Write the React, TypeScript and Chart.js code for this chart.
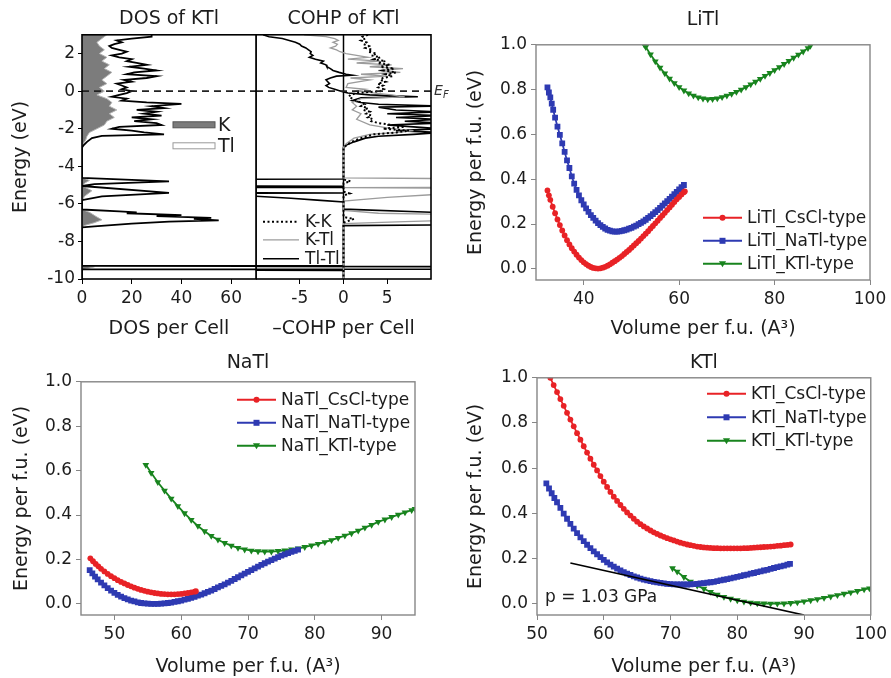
import React, { useEffect, useRef } from 'react';
import { Chart, registerables } from 'chart.js';

Chart.register(...registerables);

type Pair = [number, number];

// ---------------- Energy–volume panels ----------------
const energyTicks = [0, 0.2, 0.4, 0.6, 0.8, 1.0];

// LiTl: [volume, energy]
const litlVolumeTicks = [40, 60, 80, 100];
const litlCsCl: Pair[] = [
  [32.4, 0.35], [32.7, 0.328], [33, 0.308], [33.5, 0.277], [34, 0.248], [34.5, 0.22], [35, 0.195], [35.5, 0.171],
  [36, 0.149], [36.5, 0.128], [37, 0.109], [37.5, 0.092], [38, 0.077], [38.5, 0.063], [39, 0.05], [39.5, 0.039],
  [40, 0.029], [40.5, 0.021], [41, 0.014], [41.5, 0.008], [42, 0.004], [42.5, 0.002], [43, 0.001], [43.5, 0.002],
  [44, 0.005], [44.5, 0.009], [45, 0.014], [45.5, 0.02], [46, 0.027], [46.5, 0.034], [47, 0.041], [47.5, 0.049],
  [48, 0.057], [48.5, 0.066], [49, 0.075], [49.5, 0.084], [50, 0.094], [50.5, 0.104], [51, 0.114], [51.5, 0.124],
  [52, 0.135], [52.5, 0.146], [53, 0.157], [53.5, 0.168], [54, 0.18], [54.5, 0.191], [55, 0.203], [55.5, 0.215],
  [56, 0.227], [56.5, 0.238], [57, 0.25], [57.5, 0.262], [58, 0.274], [58.5, 0.286], [59, 0.298], [59.5, 0.31],
  [60, 0.321], [60.5, 0.332], [61, 0.342], [61.2, 0.346],
];
const litlNaTl: Pair[] = [
  [32.4, 0.81], [32.7, 0.787], [33, 0.765], [33.3, 0.737], [33.6, 0.71], [34, 0.675], [34.5, 0.635], [35, 0.598],
  [35.5, 0.56], [36, 0.522], [36.5, 0.484], [37, 0.45], [37.5, 0.413], [38, 0.38], [38.5, 0.352], [39, 0.328],
  [39.5, 0.306], [40, 0.287], [40.5, 0.27], [41, 0.254], [41.5, 0.24], [42, 0.227], [42.5, 0.215], [43, 0.204],
  [43.5, 0.195], [44, 0.187], [44.5, 0.18], [45, 0.174], [45.5, 0.17], [46, 0.167], [46.5, 0.166], [47, 0.166],
  [47.5, 0.167], [48, 0.169], [48.5, 0.172], [49, 0.175], [49.5, 0.179], [50, 0.183], [50.5, 0.188], [51, 0.193],
  [51.5, 0.199], [52, 0.205], [52.5, 0.212], [53, 0.219], [53.5, 0.227], [54, 0.235], [54.5, 0.244], [55, 0.253],
  [55.5, 0.262], [56, 0.272], [56.5, 0.282], [57, 0.292], [57.5, 0.302], [58, 0.312], [58.5, 0.322], [59, 0.333],
  [59.5, 0.343], [60, 0.354], [60.5, 0.364], [61, 0.374],
];
const litlKTl: Pair[] = [
  [52.7, 1.0], [53, 0.99], [54, 0.957], [55, 0.926], [56, 0.898], [57, 0.872], [58, 0.849], [59, 0.829],
  [60, 0.811], [61, 0.796], [62, 0.783], [63, 0.773], [64, 0.765], [65, 0.76], [66, 0.757], [67, 0.758],
  [68, 0.761], [69, 0.766], [70, 0.773], [71, 0.781], [72, 0.79], [73, 0.8], [74, 0.811], [75, 0.823],
  [76, 0.835], [77, 0.848], [78, 0.861], [79, 0.874], [80, 0.887], [81, 0.9], [82, 0.914], [83, 0.928],
  [84, 0.942], [85, 0.956], [86, 0.97], [87, 0.985], [87.5, 0.995],
];

// NaTl
const natlVolumeTicks = [50, 60, 70, 80, 90];
const natlCsCl: Pair[] = [
  [46.4, 0.205], [46.8, 0.192], [47.2, 0.18], [47.6, 0.169], [48, 0.158], [48.5, 0.146], [49, 0.135], [49.5, 0.125],
  [50, 0.116], [50.5, 0.107], [51, 0.099], [51.5, 0.092], [52, 0.085], [52.5, 0.079], [53, 0.073], [53.5, 0.068],
  [54, 0.063], [54.5, 0.059], [55, 0.055], [55.5, 0.052], [56, 0.049], [56.5, 0.047], [57, 0.045], [57.5, 0.044],
  [58, 0.043], [58.5, 0.043], [59, 0.043], [59.5, 0.044], [60, 0.045], [60.5, 0.047], [61, 0.049], [61.5, 0.052],
  [62, 0.055], [62.2, 0.057],
];
const natlNaTl: Pair[] = [
  [46.3, 0.152], [46.7, 0.137], [47.1, 0.123], [47.5, 0.11], [48, 0.096], [48.5, 0.083], [49, 0.071], [49.5, 0.06],
  [50, 0.05], [50.5, 0.041], [51, 0.033], [51.5, 0.026], [52, 0.02], [52.5, 0.015], [53, 0.011], [53.5, 0.007],
  [54, 0.004], [54.5, 0.002], [55, 0.001], [55.5, 0.0], [56, 0.0], [56.5, 0.0], [57, 0.001], [57.5, 0.002],
  [58, 0.004], [58.5, 0.006], [59, 0.009], [59.5, 0.012], [60, 0.015], [60.5, 0.019], [61, 0.023], [61.5, 0.027],
  [62, 0.032], [62.5, 0.037], [63, 0.042], [63.5, 0.048], [64, 0.054], [64.5, 0.06], [65, 0.067], [65.5, 0.074],
  [66, 0.081], [66.5, 0.088], [67, 0.096], [67.5, 0.104], [68, 0.112], [68.5, 0.12], [69, 0.128], [69.5, 0.136],
  [70, 0.144], [70.5, 0.152], [71, 0.16], [71.5, 0.168], [72, 0.176], [72.5, 0.183], [73, 0.19], [73.5, 0.197],
  [74, 0.204], [74.5, 0.211], [75, 0.217], [75.5, 0.223], [76, 0.229], [76.5, 0.234], [77, 0.239], [77.5, 0.244],
];
const natlKTl: Pair[] = [
  [54.7, 0.626], [55.5, 0.59], [56.5, 0.548], [57.5, 0.51], [58.5, 0.474], [59.5, 0.44], [60.5, 0.408], [61.5, 0.378],
  [62.5, 0.351], [63.5, 0.327], [64.5, 0.306], [65.5, 0.289], [66.5, 0.274], [67.5, 0.262], [68.5, 0.252], [69.5, 0.245],
  [70.5, 0.24], [71.5, 0.237], [72.5, 0.236], [73.5, 0.236], [74.5, 0.238], [75.5, 0.241], [76.5, 0.245], [77.5, 0.25],
  [78.5, 0.256], [79.5, 0.263], [80.5, 0.27], [81.5, 0.278], [82.5, 0.287], [83.5, 0.297], [84.5, 0.307], [85.5, 0.318],
  [86.5, 0.33], [87.5, 0.343], [88.5, 0.356], [89.5, 0.369], [90.5, 0.38], [91.5, 0.391], [92.5, 0.402], [93.5, 0.412],
  [94.5, 0.422], [95, 0.427],
];

// KTl
const ktlVolumeTicks = [50, 60, 70, 80, 90, 100];
const ktlCsCl: Pair[] = [
  [52, 1.0], [52.5, 0.968], [53, 0.937], [53.5, 0.906], [54, 0.876], [54.5, 0.845], [55, 0.815], [55.5, 0.785],
  [56, 0.755], [56.5, 0.726], [57, 0.697], [57.5, 0.669], [58, 0.642], [58.5, 0.615], [59, 0.59], [59.5, 0.565],
  [60, 0.54], [60.5, 0.517], [61, 0.495], [61.5, 0.474], [62, 0.455], [62.5, 0.437], [63, 0.42], [63.5, 0.404],
  [64, 0.39], [64.5, 0.376], [65, 0.363], [65.5, 0.352], [66, 0.342], [66.5, 0.333], [67, 0.324], [67.5, 0.316],
  [68, 0.309], [68.5, 0.302], [69, 0.296], [69.5, 0.29], [70, 0.285], [70.5, 0.28], [71, 0.275], [71.5, 0.27],
  [72, 0.266], [72.5, 0.262], [73, 0.259], [73.5, 0.256], [74, 0.253], [74.5, 0.251], [75, 0.249], [75.5, 0.248],
  [76, 0.247], [76.5, 0.246], [77, 0.246], [77.5, 0.245], [78, 0.245], [78.5, 0.245], [79, 0.245], [79.5, 0.245],
  [80, 0.245], [80.5, 0.245], [81, 0.246], [81.5, 0.246], [82, 0.247], [82.5, 0.248], [83, 0.249], [83.5, 0.25],
  [84, 0.251], [84.5, 0.252], [85, 0.253], [85.5, 0.254], [86, 0.256], [86.5, 0.257], [87, 0.259], [87.5, 0.26],
  [88, 0.262],
];
const ktlNaTl: Pair[] = [
  [51.4, 0.533], [51.8, 0.51], [52.2, 0.489], [52.6, 0.468], [53, 0.449], [53.5, 0.424], [54, 0.399], [54.5, 0.376],
  [55, 0.353], [55.5, 0.332], [56, 0.312], [56.5, 0.294], [57, 0.277], [57.5, 0.261], [58, 0.246], [58.5, 0.232],
  [59, 0.219], [59.5, 0.206], [60, 0.194], [60.5, 0.183], [61, 0.173], [61.5, 0.164], [62, 0.155], [62.5, 0.147],
  [63, 0.14], [63.5, 0.133], [64, 0.127], [64.5, 0.121], [65, 0.116], [65.5, 0.111], [66, 0.107], [66.5, 0.103],
  [67, 0.1], [67.5, 0.097], [68, 0.094], [68.5, 0.092], [69, 0.09], [69.5, 0.088], [70, 0.087], [70.5, 0.086],
  [71, 0.086], [71.5, 0.085], [72, 0.085], [72.5, 0.085], [73, 0.086], [73.5, 0.087], [74, 0.088], [74.5, 0.09],
  [75, 0.091], [75.5, 0.093], [76, 0.095], [76.5, 0.097], [77, 0.1], [77.5, 0.103], [78, 0.106], [78.5, 0.109],
  [79, 0.112], [79.5, 0.115], [80, 0.119], [80.5, 0.122], [81, 0.126], [81.5, 0.129], [82, 0.133], [82.5, 0.136],
  [83, 0.14], [83.5, 0.143], [84, 0.147], [84.5, 0.15], [85, 0.154], [85.5, 0.158], [86, 0.162], [86.5, 0.165],
  [87, 0.169], [87.5, 0.173], [87.9, 0.176],
];
const ktlKTl: Pair[] = [
  [70.3, 0.157], [71, 0.142], [72, 0.118], [73, 0.097], [74, 0.08], [75, 0.066], [76, 0.052], [77, 0.04],
  [78, 0.03], [79, 0.022], [80, 0.015], [81, 0.009], [82, 0.005], [83, 0.002], [84, 0.001], [85, 0.0],
  [86, 0.0], [87, 0.001], [88, 0.003], [89, 0.006], [90, 0.01], [91, 0.015], [92, 0.02], [93, 0.026],
  [94, 0.032], [95, 0.038], [96, 0.044], [97, 0.05], [98, 0.056], [99, 0.063], [99.8, 0.068],
];
const ktlTangent: Pair[] = [[55, 0.18], [90, -0.05]];
const ktlPressureNote = 'p = 1.03 GPa';

// ---------------- DOS / COHP of KTl: [value, energy] ----------------
const energyAxisTicks = [-10, -8, -6, -4, -2, 0, 2];
const dosTicks = [0, 20, 40, 60];
const cohpTicks = [-5, 0, 5];
const fermiLevel = 0;
const dosLegendLabels = ['K', 'Tl'];

const dosTotal: Pair[] = [
  [28, 3.0], [28, 2.9], [20, 2.8], [14, 2.7], [16, 2.6], [13, 2.5], [11, 2.4], [12, 2.3], [15, 2.2], [18, 2.1],
  [16, 2.0], [12, 1.9], [15, 1.8], [20, 1.7], [18, 1.6], [22, 1.5], [26, 1.4], [19, 1.3], [25, 1.2], [30, 1.1],
  [21, 1.0], [18, 0.9], [30, 0.8], [26, 0.7], [17, 0.6], [20, 0.5], [14, 0.4], [16, 0.3], [18, 0.2], [16, 0.1],
  [20, 0.0], [18, -0.1], [15, -0.2], [12, -0.3], [18, -0.4], [16, -0.5], [26, -0.6], [40, -0.68], [28, -0.8],
  [33, -0.9], [22, -1.0], [30, -1.1], [25, -1.2], [32, -1.3], [20, -1.4], [28, -1.5], [21, -1.6], [30, -1.7],
  [32, -1.8], [15, -1.9], [12, -2.0], [20, -2.1], [25, -2.2], [33, -2.3], [8, -2.38], [4, -2.5], [2, -2.7],
  [0.5, -2.9], [0, -3.0], [0, -4.62], [35, -4.8], [5, -4.95], [0, -5.05], [35, -5.42], [8, -5.6], [0, -5.8],
  [0, -6.3], [15, -6.4], [22, -6.45], [18, -6.5], [40, -6.6], [30, -6.65], [52, -6.75], [45, -6.8], [55, -6.88],
  [35, -6.95], [20, -7.05], [5, -7.2], [0, -7.25], [0, -9.3], [400, -9.34], [400, -9.47], [0, -9.49], [0, -10],
];
const dosK: Pair[] = [
  [10, 3.0], [8, 2.8], [6, 2.6], [7, 2.4], [9, 2.2], [7, 2.0], [10, 1.8], [8, 1.6], [11, 1.4], [9, 1.2],
  [12, 1.0], [10, 0.8], [8, 0.6], [10, 0.4], [7, 0.2], [9, 0.0], [6, -0.2], [10, -0.4], [12, -0.6], [11, -0.8],
  [14, -1.0], [11, -1.2], [13, -1.4], [10, -1.6], [9, -1.8], [6, -2.0], [3, -2.2], [2, -2.4], [1.5, -2.6],
  [0.5, -2.8], [0, -2.9], [0, -4.6], [3, -4.75], [1, -4.9], [0, -5.05], [4, -5.3], [1, -5.6], [0, -5.85],
  [0, -6.3], [3, -6.45], [6, -6.7], [8, -6.85], [5, -7.0], [1, -7.15], [0, -7.25], [0, -9.28], [5, -9.35],
  [2, -9.45], [0, -9.52], [0, -10],
];
const cohpKK: Pair[] = [
  [2.8, 3.0], [2.2, 2.9], [2.5, 2.8], [2.0, 2.7], [2.6, 2.6], [2.3, 2.5], [2.9, 2.4], [2.5, 2.3], [3.3, 2.2],
  [2.8, 2.1], [3.8, 2.0], [3.2, 1.9], [4.2, 1.8], [3.5, 1.7], [4.8, 1.6], [3.9, 1.5], [5.3, 1.4], [4.2, 1.3],
  [5.8, 1.2], [4.6, 1.1], [6.0, 1.0], [4.8, 0.9], [5.6, 0.8], [4.5, 0.7], [4.2, 0.6], [4.8, 0.5], [3.9, 0.4],
  [4.5, 0.3], [4.0, 0.2], [4.6, 0.1], [4.2, 0.0], [1.5, -0.1], [0.8, -0.2], [0.6, -0.3], [1.0, -0.4], [1.4, -0.5],
  [2.0, -0.6], [2.4, -0.7], [2.0, -0.8], [2.8, -0.9], [2.3, -1.0], [3.0, -1.1], [2.6, -1.2], [3.2, -1.3],
  [2.8, -1.4], [3.4, -1.5], [3.2, -1.6], [4.0, -1.7], [5.5, -1.8], [7.0, -1.9], [4.5, -2.0], [7.5, -2.1],
  [6.0, -2.2], [3.5, -2.3], [2.0, -2.5], [0.9, -2.7], [0.3, -2.9], [0, -3.0], [0, -4.7], [0.8, -4.8], [0, -4.9],
  [0, -5.35], [0.7, -5.45], [0, -5.55], [0, -6.7], [1.2, -6.8], [0.6, -6.9], [0, -7.0], [0, -10],
];
const cohpKTl: Pair[] = [
  [-4.5, 3.0], [-2.0, 2.9], [-1.0, 2.8], [-0.6, 2.7], [-1.2, 2.6], [-0.7, 2.5], [-0.9, 2.4], [-1.5, 2.3],
  [-0.8, 2.2], [-0.4, 2.1], [0.3, 2.0], [1.5, 1.9], [2.8, 1.8], [0.5, 1.7], [4.2, 1.6], [1.5, 1.5], [5.5, 1.4],
  [3.0, 1.3], [6.8, 1.2], [4.0, 1.1], [6.5, 1.0], [2.0, 0.9], [5.0, 0.8], [0.8, 0.7], [3.0, 0.6], [0.5, 0.4],
  [0.3, 0.2], [2.5, 0.1], [1.5, 0.0], [5.5, -0.2], [7.0, -0.3], [2.0, -0.4], [1.0, -0.6], [1.5, -0.8],
  [1.0, -1.0], [2.0, -1.2], [1.5, -1.5], [3.0, -1.8], [5.5, -2.0], [8.0, -2.1], [6.0, -2.2], [3.0, -2.3],
  [1.2, -2.5], [0.3, -2.8], [0, -3.0], [0, -4.62], [40, -4.74], [40, -5.1], [0, -5.14], [40, -5.2], [40, -5.42],
  [10.5, -5.5], [5, -5.65], [0, -5.85], [0, -6.35], [4, -6.5], [10.5, -6.55], [10.5, -6.9], [7, -6.95],
  [0, -7.05], [0, -10],
];
const cohpTlTl: Pair[] = [
  [-9.2, 3.0], [-8.5, 2.9], [-7.0, 2.8], [-6.2, 2.7], [-5.5, 2.6], [-5.0, 2.5], [-4.8, 2.4], [-4.3, 2.3],
  [-4.0, 2.2], [-3.7, 2.1], [-3.8, 2.0], [-3.5, 1.9], [-3.9, 1.8], [-3.2, 1.7], [-2.3, 1.6], [-2.6, 1.5],
  [-2.0, 1.4], [-1.9, 1.3], [-1.5, 1.2], [-1.2, 1.1], [-0.5, 1.0], [0.3, 0.9], [1.0, 0.85], [-0.8, 0.8],
  [-1.5, 0.7], [-2.0, 0.6], [-1.8, 0.5], [-1.6, 0.4], [-2.0, 0.3], [-1.7, 0.2], [-1.0, 0.1], [-0.3, 0.0],
  [0.5, -0.1], [3.0, -0.2], [8.5, -0.3], [2.0, -0.35], [1.0, -0.5], [2.0, -0.6], [4.0, -0.7], [11, -0.8],
  [4.0, -0.85], [6.0, -1.0], [11, -1.1], [5.0, -1.2], [11, -1.3], [6.0, -1.4], [11, -1.5], [7.0, -1.6],
  [11, -1.7], [5.0, -1.8], [8.0, -1.9], [11, -2.0], [6.0, -2.1], [11, -2.2], [8.0, -2.3], [4.0, -2.4],
  [2.5, -2.5], [1.2, -2.7], [0.2, -2.9], [0, -3.0], [0, -4.68], [-40, -4.72], [-40, -5.02], [0, -5.06],
  [0, -5.12], [-40, -5.16], [-40, -5.38], [0, -5.42], [-40, -5.48], [-10.5, -5.58], [-6, -5.7], [-3, -5.8],
  [0, -5.9], [0, -6.28], [10, -6.45], [12, -6.5], [10.2, -6.55], [11, -6.6], [30, -6.8], [30, -7.05],
  [10.5, -7.12], [0, -7.16], [0, -9.28], [-40, -9.33], [40, -9.345], [40, -9.475], [-40, -9.485], [0, -9.55],
  [0, -10],
];

// ---------------- styling helpers ----------------
const FONT = "'DejaVu Sans', 'Liberation Sans', sans-serif";
const TXT = '#1c1c1c';
const AXIS_GRAY = '#868686';
const RED = 'rgb(232,34,38)';
const BLUE = 'rgb(46,58,178)';
const GREEN = 'rgb(24,132,30)';

const toXY = (p: Pair[]) => p.map(([x, y]) => ({ x, y }));

function drawMarker(ctx: CanvasRenderingContext2D, style: string, x: number, y: number, color: string) {
  ctx.fillStyle = color;
  ctx.beginPath();
  if (style === 'circle') {
    ctx.arc(x, y, 3, 0, Math.PI * 2);
  } else if (style === 'rect') {
    ctx.rect(x - 3, y - 3, 6, 6);
  } else {
    ctx.moveTo(x - 3.6, y - 2.5);
    ctx.lineTo(x + 3.6, y - 2.5);
    ctx.lineTo(x, y + 3.4);
    ctx.closePath();
  }
  ctx.fill();
}

function framePlugin(color: string, width: number) {
  return {
    id: 'frame',
    afterDraw(chart: any) {
      const { ctx, chartArea: a } = chart;
      ctx.save();
      ctx.strokeStyle = color;
      ctx.lineWidth = width;
      ctx.strokeRect(a.left, a.top, a.right - a.left, a.bottom - a.top);
      ctx.restore();
    },
  };
}

function seriesLegendPlugin(indices: number[], styles: string[], dx: number, dy: number, gap: number) {
  return {
    id: 'seriesLegend',
    afterDraw(chart: any) {
      const { ctx, chartArea: a } = chart;
      ctx.save();
      indices.forEach((di, i) => {
        const ds = chart.data.datasets[di];
        const x0 = a.left + dx;
        const y = a.top + dy + i * gap;
        ctx.strokeStyle = ds.borderColor;
        ctx.lineWidth = 2;
        ctx.beginPath();
        ctx.moveTo(x0, y);
        ctx.lineTo(x0 + 39, y);
        ctx.stroke();
        drawMarker(ctx, styles[i], x0 + 19.5, y, ds.borderColor);
        ctx.fillStyle = TXT;
        ctx.font = `17px ${FONT}`;
        ctx.textAlign = 'left';
        ctx.textBaseline = 'middle';
        ctx.fillText(ds.label, x0 + 44, y + 1);
      });
      ctx.restore();
    },
  };
}

function notePlugin(text: string, dx: number, dy: number) {
  return {
    id: 'note',
    afterDraw(chart: any) {
      const { ctx, chartArea: a } = chart;
      ctx.save();
      ctx.fillStyle = TXT;
      ctx.font = `17px ${FONT}`;
      ctx.textAlign = 'left';
      ctx.textBaseline = 'middle';
      ctx.fillText(text, a.left + dx, a.top + dy);
      ctx.restore();
    },
  };
}

const tickFont = { family: FONT, size: 17 };
const titleFont = { family: FONT, size: 19, weight: 'normal' as const };

interface SeriesDef { label: string; pts: Pair[]; color: string; style: 'circle' | 'rect' | 'triangle' }

interface EnergyPanelDef {
  title: string;
  xMin: number; xMax: number; xTicks: number[];
  series: SeriesDef[];
  tangent?: Pair[];
  yAxisW: number; xAxisH: number; padRight: number;
  titlePad: { top: number; bottom: number };
  yTitlePad: number;
  legend: { dx: number; dy: number; gap: number };
  note?: { text: string; dx: number; dy: number };
}

function energyConfig(p: EnergyPanelDef) {
  const datasets: any[] = [];
  if (p.tangent) {
    datasets.push({
      label: 'tangent', data: toXY(p.tangent), showLine: true, borderColor: '#000', borderWidth: 1.7,
      pointRadius: 0,
    });
  }
  const legendIdx: number[] = [];
  p.series.forEach((s) => {
    legendIdx.push(datasets.length);
    datasets.push({
      label: s.label,
      data: toXY(s.pts),
      showLine: true,
      borderColor: s.color,
      backgroundColor: s.color,
      borderWidth: 1.8,
      pointStyle: s.style,
      pointRotation: s.style === 'triangle' ? 180 : 0,
      pointRadius: s.style === 'circle' ? 2.9 : s.style === 'rect' ? 4.1 : 3.9,
      pointBorderWidth: 0,
      pointBackgroundColor: s.color,
    });
  });
  const plugins: any[] = [
    framePlugin(AXIS_GRAY, 1.4),
    seriesLegendPlugin(legendIdx, p.series.map((s) => s.style), p.legend.dx, p.legend.dy, p.legend.gap),
  ];
  if (p.note) plugins.push(notePlugin(p.note.text, p.note.dx, p.note.dy));
  return {
    type: 'scatter',
    data: { datasets },
    options: {
      responsive: false,
      animation: false,
      devicePixelRatio: 1,
      events: [],
      layout: { padding: { left: 0, right: p.padRight, top: 0, bottom: 0 } },
      scales: {
        x: {
          type: 'linear', min: p.xMin, max: p.xMax,
          afterBuildTicks: (s: any) => { s.ticks = p.xTicks.map((v) => ({ value: v })); },
          afterFit: (s: any) => { s.height = p.xAxisH; },
          grid: { drawOnChartArea: false, drawTicks: true, tickLength: 5, tickColor: AXIS_GRAY, color: AXIS_GRAY },
          border: { display: false },
          ticks: { font: tickFont, color: TXT, padding: 4, maxRotation: 0, autoSkip: false, callback: (v: any) => String(v) },
          title: { display: true, text: 'Volume per f.u. (A³)', font: titleFont, color: TXT, padding: { top: 0, bottom: 0 } },
        },
        y: {
          type: 'linear', min: -0.05, max: 1.0,
          afterBuildTicks: (s: any) => { s.ticks = energyTicks.map((v) => ({ value: v })); },
          afterFit: (s: any) => { s.width = p.yAxisW; },
          grid: { drawOnChartArea: false, drawTicks: true, tickLength: 5, tickColor: AXIS_GRAY, color: AXIS_GRAY },
          border: { display: false },
          ticks: { font: tickFont, color: TXT, padding: 4, autoSkip: false, callback: (v: any) => Number(v).toFixed(1) },
          title: { display: true, text: 'Energy per f.u. (eV)', font: titleFont, color: TXT, padding: { top: p.yTitlePad, bottom: 0 } },
        },
      },
      plugins: {
        legend: { display: false },
        tooltip: { enabled: false },
        title: { display: true, text: p.title, font: titleFont, color: TXT, padding: p.titlePad, fullSize: false },
      },
    },
    plugins,
  };
}

const dosLegendPlugin = {
  id: 'dosLegend',
  afterDraw(chart: any) {
    const { ctx, chartArea: a } = chart;
    ctx.save();
    ctx.lineWidth = 1;
    ctx.fillStyle = '#7c7c7c';
    ctx.strokeStyle = '#555';
    ctx.fillRect(a.left + 91, a.top + 87, 42, 6);
    ctx.strokeRect(a.left + 91, a.top + 87, 42, 6);
    ctx.fillStyle = '#fff';
    ctx.strokeStyle = '#9a9a9a';
    ctx.fillRect(a.left + 91, a.top + 108, 42, 6);
    ctx.strokeRect(a.left + 91, a.top + 108, 42, 6);
    ctx.fillStyle = TXT;
    ctx.font = `19px ${FONT}`;
    ctx.textAlign = 'left';
    ctx.textBaseline = 'middle';
    ctx.fillText(dosLegendLabels[0], a.left + 136, a.top + 91);
    ctx.fillText(dosLegendLabels[1], a.left + 136, a.top + 112);
    ctx.restore();
  },
};

const cohpLegendPlugin = {
  id: 'cohpLegend',
  afterDraw(chart: any) {
    const { ctx, chartArea: a } = chart;
    const rows = [1, 2, 3];
    const ys = [187, 205, 224];
    ctx.save();
    rows.forEach((di, i) => {
      const ds = chart.data.datasets[di];
      const y = a.top + ys[i];
      ctx.strokeStyle = ds.borderColor;
      ctx.lineWidth = ds.borderWidth;
      ctx.setLineDash(ds.borderDash || []);
      ctx.beginPath();
      ctx.moveTo(a.left + 7, y);
      ctx.lineTo(a.left + 43, y);
      ctx.stroke();
      ctx.setLineDash([]);
      ctx.fillStyle = TXT;
      ctx.font = `17px ${FONT}`;
      ctx.textAlign = 'left';
      ctx.textBaseline = 'middle';
      ctx.fillText(ds.label, a.left + 49, y + 1);
    });
    // Fermi level label
    const yF = chart.scales.y.getPixelForValue(fermiLevel);
    ctx.font = `italic 14px ${FONT}`;
    ctx.fillStyle = '#333';
    ctx.fillText('E', a.right + 3, yF);
    ctx.font = `italic 10px ${FONT}`;
    ctx.fillText('F', a.right + 12, yF + 4);
    ctx.restore();
  },
};

function bandScales(xMin: number, xMax: number, xTicks: number[], xTitle: string, showY: boolean, yTitlePad: number) {
  return {
    x: {
      type: 'linear', min: xMin, max: xMax,
      afterBuildTicks: (s: any) => { s.ticks = xTicks.map((v) => ({ value: v })); },
      afterFit: (s: any) => { s.height = 61; },
      grid: { drawOnChartArea: false, drawTicks: true, tickLength: 5, tickColor: '#000', color: '#000' },
      border: { display: false },
      ticks: { font: tickFont, color: TXT, padding: 4, maxRotation: 0, autoSkip: false, callback: (v: any) => String(v) },
      title: { display: true, text: xTitle, font: titleFont, color: TXT, padding: { top: 0, bottom: 0 } },
    },
    y: {
      type: 'linear', min: -10, max: 3, display: showY,
      afterBuildTicks: (s: any) => { s.ticks = energyAxisTicks.map((v) => ({ value: v })); },
      afterFit: (s: any) => { s.width = showY ? 82 : 0; },
      grid: { drawOnChartArea: false, drawTicks: true, tickLength: 4, tickColor: '#000', color: '#000' },
      border: { display: false },
      ticks: { font: tickFont, color: TXT, padding: 3, autoSkip: false, callback: (v: any) => String(v) },
      title: { display: true, text: 'Energy (eV)', font: titleFont, color: TXT, padding: { top: yTitlePad, bottom: 0 } },
    },
  };
}

function dosConfig() {
  return {
    type: 'line',
    data: {
      datasets: [
        { label: 'EF', data: [{ x: 0, y: fermiLevel }, { x: 70, y: fermiLevel }], borderColor: '#222', borderWidth: 1.8, borderDash: [7, 5], pointRadius: 0, fill: false },
        { label: 'Total', data: toXY(dosTotal), borderColor: '#000', borderWidth: 1.8, pointRadius: 0, fill: false, tension: 0 },
        { label: 'K', data: toXY(dosK), borderColor: '#b4b4b4', borderWidth: 1, backgroundColor: '#7c7c7c', pointRadius: 0, fill: 'origin', tension: 0 },
      ],
    },
    options: {
      indexAxis: 'y',
      responsive: false,
      animation: false,
      devicePixelRatio: 1,
      events: [],
      layout: { padding: { left: 0, right: 6, top: 0, bottom: 0 } },
      scales: bandScales(0, 70, dosTicks, 'DOS per Cell', true, 10),
      plugins: {
        legend: { display: false },
        tooltip: { enabled: false },
        title: { display: true, text: 'DOS of KTl', font: titleFont, color: TXT, padding: { top: 8, bottom: 4 }, fullSize: false },
      },
    },
    plugins: [framePlugin('#000', 1.6), dosLegendPlugin],
  };
}

function cohpConfig() {
  return {
    type: 'line',
    data: {
      datasets: [
        { label: 'EF', data: [{ x: -10, y: fermiLevel }, { x: 10, y: fermiLevel }], borderColor: '#222', borderWidth: 1.8, borderDash: [7, 5], pointRadius: 0, fill: false },
        { label: 'K-K', data: toXY(cohpKK), borderColor: '#000', borderWidth: 2, borderDash: [2, 2.5], pointRadius: 0, fill: false, tension: 0 },
        { label: 'K-Tl', data: toXY(cohpKTl), borderColor: '#9c9c9c', borderWidth: 1.3, pointRadius: 0, fill: false, tension: 0 },
        { label: 'Tl-Tl', data: toXY(cohpTlTl), borderColor: '#000', borderWidth: 1.6, pointRadius: 0, fill: false, tension: 0 },
        { label: 'divider', data: [{ x: 0, y: 3 }, { x: 0, y: -10 }], borderColor: '#000', borderWidth: 1.5, pointRadius: 0, fill: false },
      ],
    },
    options: {
      indexAxis: 'y',
      responsive: false,
      animation: false,
      devicePixelRatio: 1,
      events: [],
      layout: { padding: { left: 0, right: 25, top: 0, bottom: 0 } },
      scales: bandScales(-10, 10, cohpTicks, '–COHP per Cell', false, 0),
      plugins: {
        legend: { display: false },
        tooltip: { enabled: false },
        title: { display: true, text: 'COHP of KTl', font: titleFont, color: TXT, padding: { top: 8, bottom: 4 }, fullSize: false },
      },
    },
    plugins: [framePlugin('#000', 1.6), cohpLegendPlugin],
  };
}

const litlPanel: EnergyPanelDef = {
  title: 'LiTl', xMin: 30, xMax: 100, xTicks: litlVolumeTicks,
  series: [
    { label: 'LiTl_CsCl-type', pts: litlCsCl, color: RED, style: 'circle' },
    { label: 'LiTl_NaTl-type', pts: litlNaTl, color: BLUE, style: 'rect' },
    { label: 'LiTl_KTl-type', pts: litlKTl, color: GREEN, style: 'triangle' },
  ],
  yAxisW: 96, xAxisH: 60, padRight: 21,
  titlePad: { top: 9, bottom: 13 }, yTitlePad: 25,
  legend: { dx: 167, dy: 173, gap: 23 },
};

const natlPanel: EnergyPanelDef = {
  title: 'NaTl', xMin: 45, xMax: 95, xTicks: natlVolumeTicks,
  series: [
    { label: 'NaTl_CsCl-type', pts: natlCsCl, color: RED, style: 'circle' },
    { label: 'NaTl_NaTl-type', pts: natlNaTl, color: BLUE, style: 'rect' },
    { label: 'NaTl_KTl-type', pts: natlKTl, color: GREEN, style: 'triangle' },
  ],
  yAxisW: 81, xAxisH: 63, padRight: 30,
  titlePad: { top: 12, bottom: 7 }, yTitlePad: 11,
  legend: { dx: 156, dy: 18, gap: 23 },
};

const ktlPanel: EnergyPanelDef = {
  title: 'KTl', xMin: 50, xMax: 100, xTicks: ktlVolumeTicks,
  series: [
    { label: 'KTl_CsCl-type', pts: ktlCsCl, color: RED, style: 'circle' },
    { label: 'KTl_NaTl-type', pts: ktlNaTl, color: BLUE, style: 'rect' },
    { label: 'KTl_KTl-type', pts: ktlKTl, color: GREEN, style: 'triangle' },
  ],
  tangent: ktlTangent,
  yAxisW: 97, xAxisH: 63, padRight: 17,
  titlePad: { top: 12, bottom: 3 }, yTitlePad: 25,
  legend: { dx: 170, dy: 16, gap: 23.5 },
  note: { text: ktlPressureNote, dx: 8, dy: 220 },
};

function ChartCanvas(props: { left: number; top: number; width: number; height: number; make: () => any }) {
  const ref = useRef<HTMLCanvasElement | null>(null);
  useEffect(() => {
    const chart = new Chart(ref.current as HTMLCanvasElement, props.make());
    return () => chart.destroy();
  }, []);
  return (
    <canvas
      ref={ref}
      width={props.width}
      height={props.height}
      style={{ position: 'absolute', left: props.left, top: props.top, width: props.width, height: props.height, display: 'block' }}
    />
  );
}

export default function App() {
  return (
    <div style={{ position: 'absolute', left: 0, top: 0, width: 891, height: 678, background: '#fff', overflow: 'hidden' }}>
      <ChartCanvas left={0} top={0} width={262} height={340} make={dosConfig} />
      <ChartCanvas left={256} top={0} width={200} height={340} make={cohpConfig} />
      <ChartCanvas left={440} top={0} width={451} height={340} make={() => energyConfig(litlPanel)} />
      <ChartCanvas left={0} top={340} width={445} height={338} make={() => energyConfig(natlPanel)} />
      <ChartCanvas left={440} top={340} width={451} height={338} make={() => energyConfig(ktlPanel)} />
    </div>
  );
}
